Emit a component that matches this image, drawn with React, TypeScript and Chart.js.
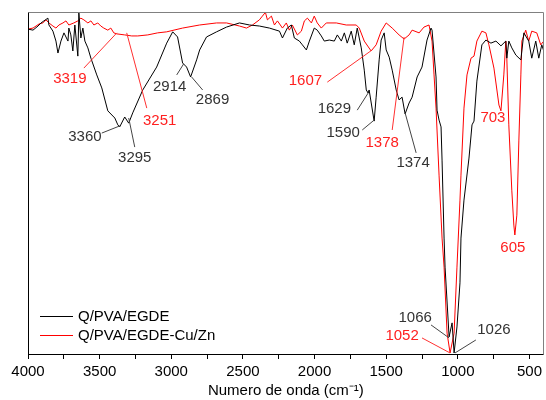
import React, { useEffect, useRef } from 'react';
import { Chart, registerables } from 'chart.js';

Chart.register(...registerables);

// ---------- data ----------
const seriesNames = ['Q/PVA/EGDE', 'Q/PVA/EGDE-Cu/Zn'];
const seriesColors = ['#000000', '#ff0000'];

// Q/PVA/EGDE (black): wavenumber (cm-1) and transmittance (a.u., 0-100)
const blackWn = [
  4000, 3965, 3930, 3909, 3889, 3861, 3854, 3826, 3805, 3791, 3770, 3749, 3721, 3715, 3701, 3687,
  3673, 3652, 3645, 3631, 3617, 3603, 3582, 3561, 3520, 3485, 3443, 3394, 3373, 3360, 3325, 3297,
  3269, 3199, 3102, 3032, 2990, 2956, 2921, 2893, 2865, 2823, 2802, 2754, 2684, 2614, 2524, 2454,
  2385, 2315, 2245, 2224, 2190, 2162, 2141, 2106, 2085, 2057, 2036, 2002, 1981, 1953, 1932, 1897,
  1862, 1841, 1813, 1792, 1772, 1744, 1723, 1702, 1674, 1653, 1639, 1626, 1619, 1584, 1570, 1549,
  1535, 1514, 1500, 1479, 1458, 1430, 1410, 1389, 1368, 1340, 1319, 1284, 1250, 1215, 1187, 1180,
  1152, 1145, 1131, 1117, 1110, 1096, 1089, 1061, 1040, 1026, 1006, 985, 978, 957, 922, 901, 887,
  867, 832, 804, 769, 734, 699, 665, 658, 644, 623, 595, 560, 539, 505, 484, 456, 435, 414, 400,
];
const blackT = [
  95.0, 94.7, 95.9, 96.8, 97.4, 98.2, 96.2, 94.4, 91.5, 88.0, 91.5, 93.9, 91.5, 95.3, 93.3, 88.6,
  96.2, 87.1, 99.7, 92.4, 95.3, 91.5, 89.5, 86.5, 81.6, 77.8, 71.1, 69.0, 67.0, 66.4, 69.3, 67.5,
  70.5, 77.2, 83.9, 90.9, 94.2, 92.7, 85.1, 83.9, 81.0, 86.0, 88.9, 92.7, 94.2, 95.6, 96.8, 96.2,
  95.9, 95.3, 94.4, 92.4, 95.3, 96.2, 92.4, 91.5, 90.4, 88.9, 91.5, 95.3, 94.7, 93.0, 91.5, 91.8,
  91.5, 93.3, 91.5, 93.9, 90.9, 94.4, 90.4, 95.3, 89.5, 83.0, 77.2, 76.3, 77.2, 68.1, 75.1, 86.0,
  91.8, 93.9, 88.9, 86.8, 83.0, 77.2, 74.3, 75.1, 70.2, 73.4, 75.1, 81.0, 83.9, 91.8, 95.3, 94.7,
  81.0, 71.3, 68.4, 66.4, 56.7, 33.9, 25.4, 5.0, 9.1, 0.3, 7.9, 20.8, 33.9, 45.0, 57.3, 67.0, 68.1,
  79.8, 90.4, 91.8, 90.9, 91.5, 90.1, 91.5, 86.5, 91.5, 89.5, 87.4, 86.0, 93.9, 91.5, 86.5, 91.5, 86.5, 90.4, 88.6,
];

// Q/PVA/EGDE-Cu/Zn (red)
const redWn = [
  4000, 3965, 3944, 3923, 3896, 3875, 3854, 3826, 3805, 3784, 3756, 3735, 3715, 3680, 3652, 3631,
  3610, 3582, 3561, 3540, 3513, 3492, 3471, 3443, 3422, 3401, 3380, 3325, 3276, 3234, 3164, 3095,
  3032, 2921, 2802, 2684, 2614, 2524, 2475, 2433, 2385, 2364, 2343, 2329, 2301, 2280, 2259, 2224,
  2197, 2176, 2155, 2120, 2092, 2071, 2050, 2022, 2002, 1981, 1953, 1918, 1848, 1779, 1709, 1688,
  1653, 1605, 1570, 1535, 1500, 1458, 1410, 1375, 1340, 1319, 1270, 1236, 1201, 1180, 1166, 1152,
  1131, 1110, 1096, 1075, 1054, 1026, 1006, 985, 978, 957, 936, 908, 887, 867, 832, 804, 783, 748,
  713, 699, 679, 665, 658, 644, 623, 609, 602, 588, 574, 560, 553, 526, 505, 484, 449, 421, 400,
];
const redT = [
  95.0, 95.3, 95.9, 96.5, 96.8, 97.7, 96.8, 95.9, 95.3, 96.2, 96.8, 97.4, 96.2, 96.8, 97.4, 98.2,
  97.7, 96.8, 97.4, 96.2, 96.8, 95.9, 95.3, 94.7, 95.3, 93.9, 93.6, 93.3, 93.0, 93.0, 93.3, 93.9,
  94.2, 95.3, 96.2, 96.8, 96.8, 95.9, 95.3, 96.2, 97.7, 98.8, 99.9, 97.7, 98.8, 96.2, 97.4, 95.3,
  96.8, 94.7, 96.2, 93.3, 94.4, 97.4, 98.2, 96.8, 98.8, 96.8, 95.3, 96.8, 96.8, 96.2, 96.2, 95.3,
  91.5, 88.6, 90.4, 94.4, 96.8, 95.3, 93.3, 92.1, 93.3, 94.7, 93.9, 95.6, 96.2, 91.5, 81.6, 71.9,
  52.3, 33.9, 25.4, 6.1, 0.3, 6.1, 25.4, 45.0, 52.3, 71.9, 81.6, 86.5, 87.1, 91.5, 94.4, 93.9, 90.4, 83.6,
  72.8, 71.1, 81.6, 91.5, 86.5, 67.0, 47.7, 37.7, 34.8, 40.6, 62.3, 81.6, 91.5, 94.7, 91.5, 94.4, 93.9, 90.4, 91.5,
];

// x axis tick values (labels on multiples of 500)
const xTickValues = [4000, 3750, 3500, 3250, 3000, 2750, 2500, 2250, 2000, 1750, 1500, 1250, 1000, 750, 500];
const xAxisTitle = 'Numero de onda (cm\u207B\u00B9)';

// peak annotations: series index, text, text anchor (wn, T), optional leader from/to (wn, T)
const peakLabels = [
  { s: 1, text: '3319', wn: 3708, t: 80.4, fromWn: 3610, fromT: 83.6, toWn: 3380, toT: 93.9 },
  { s: 1, text: '3251', wn: 3081, t: 68.1, fromWn: 3171, fromT: 71.9, toWn: 3311, toT: 93.9 },
  { s: 0, text: '3360', wn: 3603, t: 63.5, fromWn: 3485, fromT: 64.6, toWn: 3359, toT: 66.7 },
  { s: 0, text: '3295', wn: 3255, t: 57.3, fromWn: 3255, fromT: 60.5, toWn: 3297, toT: 69.0 },
  { s: 0, text: '2914', wn: 3011, t: 78.1, fromWn: 2962, fromT: 81.6, toWn: 2914, toT: 84.8 },
  { s: 0, text: '2869', wn: 2712, t: 74.3, fromWn: 2781, fromT: 77.2, toWn: 2858, toT: 81.0 },
  { s: 1, text: '1607', wn: 2064, t: 79.8, fromWn: 1911, fromT: 79.5, toWn: 1598, toT: 88.9 },
  { s: 0, text: '1629', wn: 1862, t: 71.6, fromWn: 1702, fromT: 71.3, toWn: 1626, toT: 76.3 },
  { s: 0, text: '1590', wn: 1800, t: 64.6, fromWn: 1667, fromT: 65.5, toWn: 1584, toT: 68.4 },
  { s: 1, text: '1378', wn: 1528, t: 61.7, fromWn: 1458, fromT: 65.5, toWn: 1375, toT: 92.7 },
  { s: 0, text: '1374', wn: 1312, t: 55.8, fromWn: 1291, fromT: 58.8, toWn: 1368, toT: 70.5 },
  { s: 1, text: '703', wn: 755, t: 69.0 },
  { s: 1, text: '605', wn: 616, t: 31.0 },
  { s: 0, text: '1066', wn: 1298, t: 10.5, fromWn: 1187, fromT: 8.5, toWn: 1061, toT: 4.7 },
  { s: 1, text: '1052', wn: 1389, t: 5.3, fromWn: 1250, fromT: 4.7, toWn: 1054, toT: 0.3 },
  { s: 0, text: '1026', wn: 748, t: 7.0, fromWn: 874, fromT: 4.1, toWn: 1020, toT: 0.3 },
];

const FONT = '"Liberation Sans", Arial, Helvetica, sans-serif';
const labelColors = ['#333333', '#ff2020'];

const overlayPlugin = {
  id: 'overlay',
  afterDatasetsDraw(chart: any) {
    const { ctx, chartArea, scales } = chart;
    const xs = scales.x;
    const ys = scales.y;
    ctx.save();
    // leader lines + labels
    ctx.font = `15px ${FONT}`;
    ctx.textAlign = 'center';
    ctx.textBaseline = 'middle';
    ctx.lineWidth = 1;
    for (const a of peakLabels as any[]) {
      const col = labelColors[a.s];
      if (a.fromWn !== undefined) {
        ctx.strokeStyle = a.s === 0 ? '#444444' : '#ff3030';
        ctx.beginPath();
        ctx.moveTo(xs.getPixelForValue(a.fromWn), ys.getPixelForValue(a.fromT));
        ctx.lineTo(xs.getPixelForValue(a.toWn), ys.getPixelForValue(a.toT));
        ctx.stroke();
      }
      ctx.fillStyle = col;
      ctx.fillText(a.text, xs.getPixelForValue(a.wn), ys.getPixelForValue(a.t));
    }
    // legend (inside, bottom-left)
    const lx0 = chartArea.left + 12;
    const lx1 = chartArea.left + 45;
    const rows = [chartArea.bottom - 38, chartArea.bottom - 19];
    ctx.textAlign = 'left';
    chart.data.datasets.forEach((ds: any, i: number) => {
      const yy = rows[i] + 0.5;
      ctx.strokeStyle = ds.borderColor;
      ctx.lineWidth = 1;
      ctx.beginPath();
      ctx.moveTo(lx0, yy);
      ctx.lineTo(lx1, yy);
      ctx.stroke();
      ctx.fillStyle = '#000000';
      ctx.fillText(ds.label, lx1 + 5, rows[i] + 1);
    });
    // frame
    const l = Math.round(chartArea.left) + 0.5;
    const r = Math.round(chartArea.right) - 0.5;
    const t = Math.round(chartArea.top) + 0.5;
    const b = Math.round(chartArea.bottom) + 0.5;
    ctx.strokeStyle = '#808080';
    ctx.beginPath();
    ctx.moveTo(l, t);
    ctx.lineTo(r, t);
    ctx.lineTo(r, b);
    ctx.stroke();
    ctx.strokeStyle = '#000000';
    ctx.beginPath();
    ctx.moveTo(l, t);
    ctx.lineTo(l, b);
    ctx.lineTo(r, b);
    ctx.stroke();
    ctx.restore();
  },
};

export default function App() {
  const ref = useRef<HTMLCanvasElement | null>(null);
  useEffect(() => {
    if (!ref.current) return;
    Chart.defaults.font.family = FONT;
    const chart = new Chart(ref.current, {
      type: 'line',
      data: {
        datasets: [
          {
            label: seriesNames[0],
            data: blackWn.map((w, i) => ({ x: w, y: blackT[i] })),
            borderColor: seriesColors[0],
            borderWidth: 1,
            pointRadius: 0,
            tension: 0,
          },
          {
            label: seriesNames[1],
            data: redWn.map((w, i) => ({ x: w, y: redT[i] })),
            borderColor: seriesColors[1],
            borderWidth: 1,
            pointRadius: 0,
            tension: 0,
          },
        ],
      },
      options: {
        animation: false,
        responsive: false,
        devicePixelRatio: 1,
        layout: { padding: { top: 12, right: 1, left: 28, bottom: 0 } },
        plugins: { legend: { display: false }, tooltip: { enabled: false } },
        scales: {
          x: {
            type: 'linear',
            reverse: true,
            min: 400,
            max: 4000,
            afterBuildTicks: (scale: any) => {
              scale.ticks = xTickValues.map((v) => ({ value: v }));
            },
            afterFit: (scale: any) => {
              scale.height = 46;
            },
            ticks: {
              autoSkip: false,
              maxRotation: 0,
              padding: 4,
              color: '#000000',
              font: { size: 15, family: FONT },
              callback: (v: any) => (Number(v) % 500 === 0 ? String(v) : ''),
            },
            grid: {
              display: true,
              drawOnChartArea: false,
              drawTicks: true,
              tickLength: 5,
              color: '#000000',
            },
            border: { display: false },
            title: {
              display: true,
              text: xAxisTitle,
              color: '#000000',
              font: { size: 15, family: FONT },
              padding: { top: 0, bottom: 0 },
            },
          },
          y: {
            type: 'linear',
            min: 0,
            max: 100,
            display: false,
          },
        },
      },
      plugins: [overlayPlugin],
    } as any);
    return () => chart.destroy();
  }, []);
  return (
    <div style={{ position: 'absolute', left: 0, top: 0, width: 546, height: 400, background: '#fff' }}>
      <canvas ref={ref} width={546} height={400} style={{ width: 546, height: 400, display: 'block' }} />
    </div>
  );
}
